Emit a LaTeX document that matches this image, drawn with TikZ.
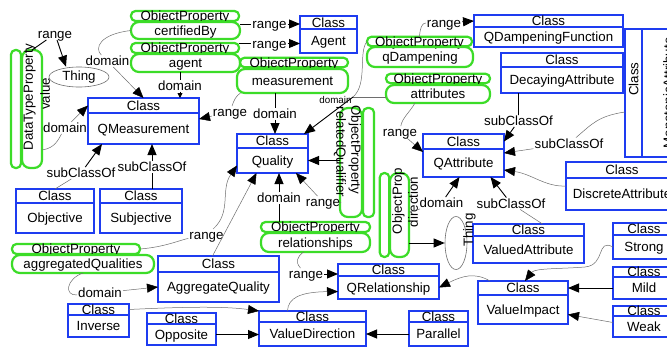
\documentclass[tikz,border=0pt]{standalone}
\usepackage{fontspec}
\setmainfont{Liberation Sans}
\usetikzlibrary{positioning,shapes.geometric,arrows.meta}
\definecolor{clsblue}{RGB}{30,60,240}
\definecolor{propgreen}{RGB}{60,220,40}
\definecolor{linegray}{RGB}{110,110,110}
\tikzset{
  chead/.style 2 args={draw=clsblue, line width=2.8pt, outer sep=0pt, minimum width=#1, minimum height=#2, inner sep=0pt, text height=9.5pt, text depth=0pt},
  cbody/.style 2 args={chead={#1}{#2}},
  phead/.style 2 args={draw=propgreen, line width=2.2pt, outer sep=0pt, rounded corners=4.5pt, minimum width=#1, minimum height=#2, inner sep=0pt, text height=9.5pt, text depth=0pt},
  pbody/.style 2 args={phead={#1}{#2}, rounded corners=8pt},
  thing/.style={ellipse, draw=linegray, line width=0.6pt, inner sep=0pt},
  lbl/.style={inner sep=1pt, text height=9.5pt, text depth=0pt},
  lbls/.style={lbl, text height=7pt, font=\fontsize{9.8}{11}\selectfont},
  blk/.style={draw=black, line width=0.9pt},
  gry/.style={draw=linegray, line width=0.5pt},
  tip/.style={-{Triangle[length=11pt,width=9pt,color=black]}},
  stip/.style={-{Triangle[length=5pt,width=5pt,color=black]}},
}
\begin{document}
\begin{tikzpicture}[x=1pt, y=-1pt, font=\fontsize{13.3}{15}\selectfont]
  \useasboundingbox (0,0) rectangle (667,348);
  \clip (0,0) rectangle (667,348);
  \fill[white] (0,0) rectangle (667,348);
  % Classes
  \node[chead={57}{13}] (agH) at (328.5,22.5) {Class};
  \node[cbody={57}{24}, below=0pt of agH] (agB) {Agent};
  \node[chead={149}{12}] (qdfH) at (548.5,21) {Class};
  \node[cbody={149}{20}, below=0pt of qdfH] (qdfB) {QDampeningFunction};
  \node[chead={122}{14}] (daH) at (562,60) {Class};
  \node[cbody={122}{26}, below=0pt of daH] (daB) {DecayingAttribute};
  \node[chead={128}{17}, rotate=90] (monH) at (633.5,93) {\hspace*{28pt}Class};
  \node[cbody={128}{52}, rotate=90] (monB) at (668,93) {MonotonicAttribute};
  \node[chead={111}{15}] (qmH) at (143.5,105.5) {Class};
  \node[cbody={111}{31}, below=0pt of qmH] (qmB) {QMeasurement};
  \node[chead={71}{14}] (qH) at (272.5,141) {Class};
  \node[cbody={71}{25}, below=0pt of qH] (qB) {Quality};
  \node[chead={81}{15}] (qaH) at (463.5,141.5) {Class};
  \node[cbody={81}{28}, below=0pt of qaH] (qaB) {QAttribute};
  \node[chead={112}{16}] (dcH) at (622,170) {Class};
  \node[cbody={112}{32}, below=0pt of dcH] (dcB) {DiscreteAttribute};
  \node[chead={78}{14}] (objH) at (55,196) {Class};
  \node[cbody={78}{30}, below=0pt of objH] (objB) {Objective};
  \node[chead={82}{14}] (subH) at (141,196) {Class};
  \node[cbody={82}{30}, below=0pt of subH] (subB) {Subjective};
  \node[chead={111}{12}] (vaH) at (528.5,230) {Class};
  \node[cbody={111}{27}, below=0pt of vaH] (vaB) {ValuedAttribute};
  \node[chead={62}{12}] (stH) at (644,229) {Class};
  \node[cbody={62}{24}, below=0pt of stH] (stB) {Strong};
  \node[chead={62}{10}] (miH) at (644,272) {Class};
  \node[cbody={62}{22}, below=0pt of miH] (miB) {Mild};
  \node[chead={62}{10}] (wkH) at (644,311) {Class};
  \node[cbody={62}{21}, below=0pt of wkH] (wkB) {Weak};
  \node[chead={121}{16}] (aqH) at (218.5,264) {Class};
  \node[cbody={121}{30}, below=0pt of aqH] (aqB) {AggregateQuality};
  \node[chead={101}{12}] (qrH) at (388.5,270) {Class};
  \node[cbody={101}{23}, below=0pt of qrH] (qrB) {QRelationship};
  \node[chead={90}{14}] (viH) at (523,288) {Class};
  \node[cbody={90}{29}, below=0pt of viH] (viB) {ValueImpact};
  \node[chead={61}{11}] (invH) at (98.5,309.5) {Class};
  \node[cbody={61}{22}, below=0pt of invH] (invB) {Inverse};
  \node[chead={69}{11}] (opH) at (181.5,318.5) {Class};
  \node[cbody={69}{21}, below=0pt of opH] (opB) {Opposite};
  \node[chead={107}{11}] (vdH) at (312.5,316.5) {Class};
  \node[cbody={107}{24}, below=0pt of vdH] (vdB) {ValueDirection};
  \node[chead={59}{11}] (paH) at (438.5,316.5) {Class};
  \node[cbody={59}{24}, below=0pt of paH] (paB) {Parallel};
  % Properties
  \node[phead={108}{10}] (cbH) at (185,16) {ObjectProperty};
  \node[pbody={109}{17}] (cbB) at (185.5,30.5) {certifiedBy};
  \node[phead={108}{10}] (agtH) at (185,48) {ObjectProperty};
  \node[pbody={109}{18}] (agtB) at (185.5,63) {agent};
  \node[phead={108}{9}] (msH) at (294,62.5) {ObjectProperty};
  \node[pbody={111}{24}] (msB) at (292.5,81) {measurement};
  \node[phead={105}{9}] (qdH) at (419.5,41.5) {ObjectProperty};
  \node[pbody={106}{20}] (qdB) at (420,57) {qDampening};
  \node[phead={104}{9}] (atH) at (438,78.5) {ObjectProperty};
  \node[pbody={104}{18}] (atB) at (438,94) {attributes};
  \node[phead={109}{10}] (relH) at (315.5,227) {ObjectProperty};
  \node[pbody={109}{19}] (relB) at (315.5,242.5) {relationships};
  \node[phead={128}{10}] (aqpH) at (76,249) {ObjectProperty};
  \node[pbody={142}{18}] (aqpB) at (83,264) {aggregatedQualities};
  \node[phead={118}{10}, rotate=90] (dtpH) at (16,109) {};
  \node[pbody={118}{20}, rotate=90] (dtpB) at (32,109) {};
  \node[lbl, rotate=90] (dtpT) at (28,97) {DataTypeProperty};
  \node[lbl, rotate=90] (valT) at (45,94) {value};
  \node[phead={109}{11}, rotate=-90] (rqH) at (368.5,162.5) {};
  \node[pbody={109}{22}, rotate=-90] (rqB) at (351,162.5) {};
  \node[lbl, rotate=-90] (rqT) at (356,150) {ObjectProperty};
  \node[lbl, rotate=-90] (rqN) at (341,152) {relatedQualifier};
  \node[phead={84}{9}, rotate=90] (dirH) at (384.5,215) {};
  \node[pbody={84}{19}, rotate=90] (dirB) at (399.5,215) {};
  \node[lbl, rotate=90] (dirT) at (397,201) {ObjectProp};
  \node[lbl, rotate=90] (dirN) at (413,202) {direction};
  % Thing
  \node[thing, minimum width=60, minimum height=20] (th1) at (79,77) {Thing};
  \node[thing, minimum width=22, minimum height=53] (th2) at (456,243) {};
  \node[lbl, rotate=90] (th2T) at (468,230) {Thing};
  % Labels
  \node[lbl] (rgA1) at (269.5,24) {range};
  \node[lbl] (rgA2) at (269.5,43.5) {range};
  \node[lbl] (dm1) at (107.5,61) {domain};
  \node[lbl] (dm2) at (180,86) {domain};
  \node[lbl] (rg1) at (55,34) {range};
  \node[lbl] (dm3) at (65,128) {domain};
  \node[lbl] (dm4) at (275,114) {domain};
  \node[lbl] (rg2) at (230,112) {range};
  \node[lbls] (dm5) at (335.5,100) {domain};
  \node[lbl] (rg3) at (444,23) {range};
  \node[lbl] (rg4) at (400,132) {range};
  \node[lbl] (sc1) at (518.5,121) {subClassOf};
  \node[lbl] (sc2) at (569,143.5) {subClassOf};
  \node[lbl] (rg5) at (323,202) {range};
  \node[lbl] (dm6) at (279,198) {domain};
  \node[lbl] (rg6) at (206.5,235) {range};
  \node[lbl] (rg7) at (306,274) {range};
  \node[lbl] (dm7) at (441.5,203) {domain};
  \node[lbl] (sc3) at (511,203.5) {subClassOf};
  \node[lbl] (dm8) at (100,293) {domain};
  \node[lbl] (sc4) at (81,173) {subClassOf};
  \node[lbl] (sc5) at (152,167) {subClassOf};
  \coordinate (jn) at (353,97);
  % Edges
  \draw[blk,tip] (cbB.east |- rgA1) -- (rgA1) -- (agH.west |- rgA1);
  \draw[blk,tip] (agtH.east |- rgA2) -- (rgA2) -- (agB.west |- rgA2);
  \draw[gry,tip] (cbB.west) .. controls (100,34) and (94,48) .. (dm1) -- (qmH.north);
  \draw[blk,stip] (dm2 |- agtB.south) -- (dm2) -- (dm2 |- qmH.north);
  \draw[blk,tip] (dtpB.east) -- (rg1) -- ([xshift=-13pt]th1.north);
  \draw[gry,tip] ([yshift=18pt]dtpB.south west) .. controls (55,148) and (58,140) .. (dm3) -- (qmH.west);
  \draw[blk,tip] (dm4 |- msB.south) -- (dm4) -- (dm4 |- qH.north);
  \draw[gry,tip] ([xshift=-52pt]msB.south) .. controls (236,96) and (234,100) .. (rg2) -- ([yshift=-6pt]qmB.north east);
  \draw[gry] (qdH.west) .. controls (358,52) and (368,84) .. (jn);
  \draw[gry] (atB.west |- jn) -- (jn);
  \draw[blk,tip] (jn) -- ([xshift=-4pt]qH.north east);
  \draw[gry] (qdH.north) .. controls (420,28) and (422,23) .. (rg3);
  \draw[blk,tip] (rg3) -- (qdfH.west);
  \draw[gry,tip] ([xshift=-23pt]atB.south) .. controls (410,112) and (402,118) .. (rg4) -- ([yshift=-3pt]qaB.north west);
  \draw[blk,tip] (sc1 |- daB.south) -- (sc1) -- (qaH.east);
  \draw[gry,tip] ([yshift=-19pt]monH.north) .. controls (598,116) and (592,124) .. (sc2) -- ([yshift=10pt]qaB.east);
  \draw[gry,tip] ([yshift=8pt]dcB.west) .. controls (545,187) and (532,174) .. ([yshift=7pt]qaB.south east);
  \draw[blk,tip] (qB.east -| rqB.south) -- (qB.east);
  \draw[gry,tip] ([yshift=-40pt]rqB.south) -- (rg5) -- ([xshift=-12pt]qB.south east);
  \draw[blk,tip] (dm6 |- relH.north) -- (dm6) -- (dm6 |- qB.south);
  \draw[gry] ([xshift=-12pt]relB.south) .. controls (297,257) and (295,262) .. (rg7);
  \draw[blk,tip] (rg7) -- (qrH.west |- rg7);
  \draw[gry,tip] (aqpH.east) .. controls (165,247) and (180,240) .. (rg6) .. controls (232,212) and (220,190) .. ([yshift=-5pt]qB.west);
  \draw[gry,tip] ([xshift=-6pt]aqH.north) -- ([xshift=-16pt]qB.south);
  \draw[gry,tip] (aqpB.south) .. controls (66,279) and (64,296) .. (dm8) -- (aqB.west);
  \draw[blk,tip] (th2.west -| dirB.south) -- (th2.west);
  \draw[gry] ([yshift=3pt]dirB.south) -- (dm7);
  \draw[blk,tip] (dm7) -- ([xshift=-4pt]qaB.south);
  \draw[gry] ([xshift=14pt]vaH.north) -- (sc3);
  \draw[blk,tip] (sc3) -- ([xshift=27pt]qaB.south);
  \draw[gry,tip] ([xshift=-33pt]viH.north) .. controls (475,272) and (462,276) .. (qrB.east);
  \draw[gry,tip] ([xshift=-25pt]vdH.north) .. controls (288,298) and (300,292) .. ([yshift=-4pt]qrB.west);
  \draw[gry,tip] (invH.east) .. controls (200,306) and (230,307) .. (vdH.north west);
  \draw[blk,tip] (opB.east) -- (vdB.west |- opB.east);
  \draw[blk,tip] (paB.west) -- (vdB.east |- paB.west);
  \draw[blk,tip] (miB.west) -- (viH.east);
  \draw[gry,tip] ([yshift=4pt]wkB.west) -- ([yshift=-5pt]viB.east);
  \draw[gry,tip] (stB.west) .. controls (596,238) and (606,265) .. (585,267) .. controls (560,269) and (535,268) .. ([xshift=2pt]viH.north);
  \draw[gry] (objH.north) -- (sc4);
  \draw[blk,tip] (sc4) -- ([xshift=14pt]qmB.south west);
  \draw[blk,tip] (sc5 |- subH.north) -- (sc5) -- (sc5 |- qmB.south);
\end{tikzpicture}
\end{document}
